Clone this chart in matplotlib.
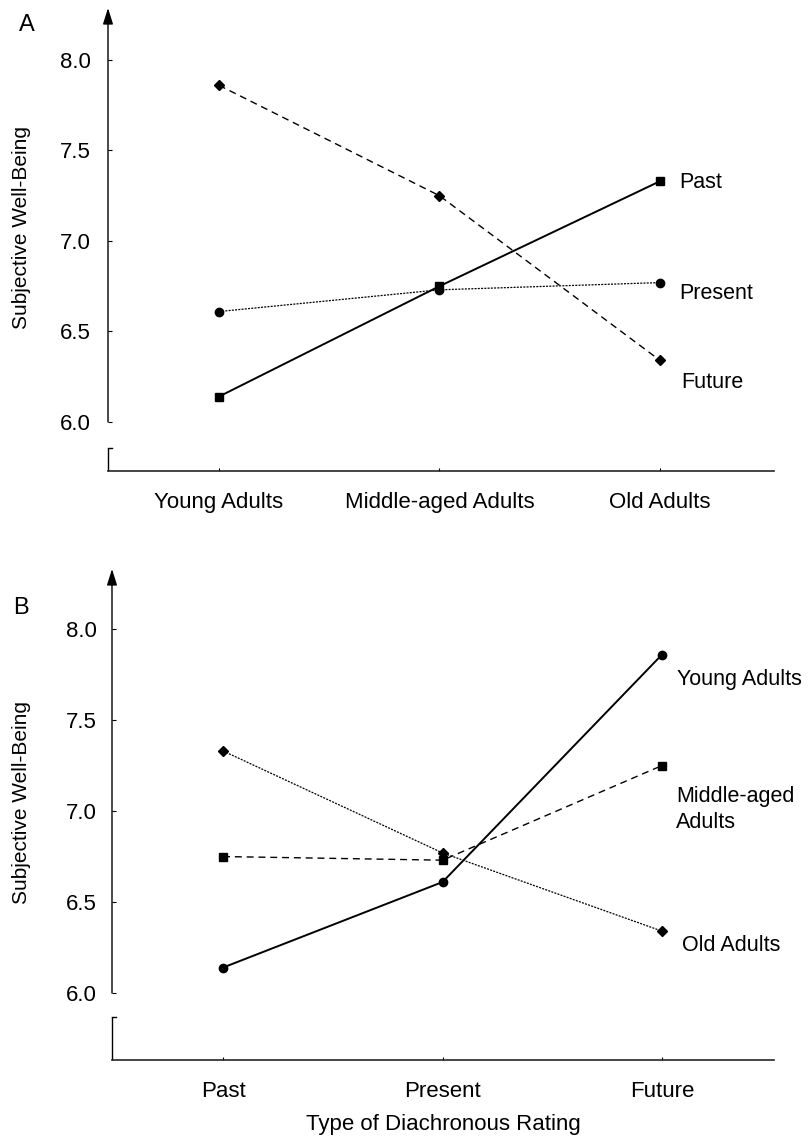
import matplotlib
matplotlib.use("Agg")
import matplotlib.pyplot as plt

plt.rcParams["font.family"] = ["Liberation Sans", "DejaVu Sans"]
plt.rcParams["font.size"] = 16

# --- data -------------------------------------------------------------------
age_groups = ["Young Adults", "Middle-aged Adults", "Old Adults"]
rating_types = ["Past", "Present", "Future"]

# panel A: one line per rating type across age groups
past = [6.14, 6.75, 7.33]
present = [6.61, 6.73, 6.77]
future = [7.86, 7.25, 6.34]

# panel B: one line per age group across rating types
young = [6.14, 6.61, 7.86]
middle = [6.75, 6.73, 7.25]
old = [7.33, 6.77, 6.34]

yticks = [6.0, 6.5, 7.0, 7.5, 8.0]

DASHED = (0, (5, 3.5))
DOTTED = (0, (1.6, 1.0))


def style_axis(ax, ylim, brk, xlim, labels, ypad):
    ax.set_xlim(*xlim)
    ax.set_ylim(*ylim)
    for s in ("left", "top", "right"):
        ax.spines[s].set_visible(False)
    ax.spines["bottom"].set_linewidth(1.2)
    ax.spines["bottom"].set_color("0.15")
    ax.set_yticks(yticks)
    ax.set_yticklabels([f"{v:.1f}" for v in yticks])
    ax.tick_params(axis="y", direction="in", length=3, width=0.8, pad=ypad,
                   labelsize=16)
    ax.set_xticks(range(len(labels)))
    ax.set_xticklabels(labels)
    ax.tick_params(axis="x", direction="in", length=2, width=0.8, pad=15,
                   labelsize=16)

    # broken y axis: short stub at the bottom, arrowed axis from 6.0 up
    tr = ax.get_yaxis_transform()
    ax.plot([0, 0], [ylim[0], brk], transform=tr, color="k", lw=1.0,
            clip_on=False, solid_capstyle="butt")
    ax.plot([0, 0.006], [brk, brk], transform=tr, color="k", lw=1.0,
            clip_on=False)
    ax.annotate("", xy=(0, ylim[1]), xytext=(0, yticks[0]),
                xycoords=tr, textcoords=tr,
                arrowprops=dict(arrowstyle="-|>,head_length=0.7,head_width=0.22",
                                lw=1.0, color="k", shrinkA=0, shrinkB=0,
                                mutation_scale=14),
                annotation_clip=False)


def end_label(ax, x, y, text, dx, dy):
    ax.annotate(text, xy=(x, y), xytext=(dx, dy), textcoords="offset pixels",
                ha="left", va="center", fontsize=15.5, linespacing=1.35)


fig = plt.figure(figsize=(8.08, 11.37), dpi=100)

# --- panel A ----------------------------------------------------------------
axA = fig.add_axes([0.13366, 0.58575, 0.82426, 0.40721])
xs = range(len(age_groups))
axA.plot(xs, future, color="k", lw=1.0, ls=DASHED, marker="D", ms=5.5)
axA.plot(xs, present, color="k", lw=0.9, ls=DOTTED, marker="o", ms=6)
axA.plot(xs, past, color="k", lw=1.4, ls="-", marker="s", ms=5.5)
style_axis(axA, (5.729, 8.287), 5.856, (-0.503, 2.517), age_groups, 12.5)
end_label(axA, 2, past[-1], "Past", 19, -1)
end_label(axA, 2, present[-1], "Present", 19, -11)
end_label(axA, 2, future[-1], "Future", 21, -22)

# --- panel B ----------------------------------------------------------------
axB = fig.add_axes([0.13861, 0.06772, 0.81931, 0.43184])
xs = range(len(rating_types))
axB.plot(xs, old, color="k", lw=0.9, ls=DOTTED, marker="D", ms=5.5)
axB.plot(xs, middle, color="k", lw=1.0, ls=DASHED, marker="s", ms=5.5)
axB.plot(xs, young, color="k", lw=1.4, ls="-", marker="o", ms=6)
style_axis(axB, (5.632, 8.33), 5.87, (-0.506, 2.51), rating_types, 11)
axB.set_xlabel("Type of Diachronous Rating", labelpad=9, fontsize=16)
end_label(axB, 2, young[-1], "Young Adults", 15, -25)
end_label(axB, 2, middle[-1], "Middle-aged\nAdults", 14, -44)
end_label(axB, 2, old[-1], "Old Adults", 20, -14)

# panel letters and y titles
fig.text(27 / 808, 1 - 25 / 1137, "A", ha="center", va="center", fontsize=17)
fig.text(21 / 808, 1 - 608 / 1137, "B", ha="center", va="center", fontsize=17)
fig.text(22 / 808, 1 - 228 / 1137, "Subjective Well-Being", rotation=90,
         ha="center", va="center", fontsize=15)
fig.text(22 / 808, 1 - 803 / 1137, "Subjective Well-Being", rotation=90,
         ha="center", va="center", fontsize=15)

fig.savefig("out.png", dpi=100)
